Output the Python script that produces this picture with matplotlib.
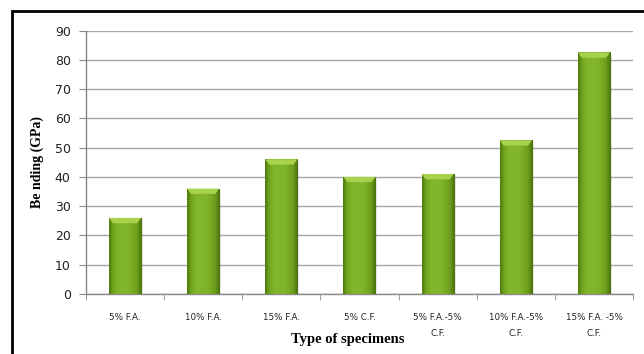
import matplotlib
matplotlib.use("Agg")
import matplotlib.pyplot as plt
import numpy as np
from matplotlib.colors import LinearSegmentedColormap
from matplotlib.patches import Rectangle, Polygon

# bending modulus per specimen type
specimens = ["5% F.A.", "10% F.A.", "15% F.A.", "5% C.F.",
             "5% F.A.-5%\nC.F.", "10% F.A.-5%\nC.F.", "15% F.A. -5%\nC.F."]
bending = [26, 36, 46, 40, 41, 52.5, 82.5]
y_ticks = [0, 10, 20, 30, 40, 50, 60, 70, 80, 90]

fig = plt.figure(figsize=(6.44, 3.54), dpi=100)
ax = fig.add_axes([0.1335, 0.1695, 0.8495, 0.7443])

x = np.arange(len(specimens))
width = 0.41

# horizontal shading across each bar, darker rims and a flat bright body
bar_cmap = LinearSegmentedColormap.from_list(
    "bar_green", [(0.0, "#4e7a0e"), (0.12, "#72a51f"), (0.3, "#82b72c"),
                  (0.6, "#80b52a"), (0.85, "#6f9f1e"), (1.0, "#4a720c")])
grad = np.linspace(0, 1, 64).reshape(1, -1)

bars = ax.bar(x, bending, width=width, color="#7eb22a", zorder=3)
for b, val in zip(bars, bending):
    x0 = b.get_x()
    # soft shadow on the right
    ax.add_patch(Rectangle((x0 + 0.025, 0), width, val - 0.4, facecolor="#000000",
                           alpha=0.10, lw=0, zorder=2))
    im = ax.imshow(grad, cmap=bar_cmap, aspect="auto",
                   extent=(x0, x0 + width, 0, val), zorder=3.5, interpolation="bicubic")
    im.set_clip_path(b)
    # bevelled top
    bevel = 1.8
    inset = 0.05
    ax.add_patch(Polygon([(x0, val), (x0 + width, val),
                          (x0 + width - inset, val - bevel), (x0 + inset, val - bevel)],
                         closed=True, facecolor="#a8d24c", edgecolor="none", zorder=4))

ax.set_xlim(-0.5, len(specimens) - 0.5)
ax.set_ylim(0, 90)
ax.set_yticks(y_ticks)
ax.yaxis.grid(True, color="#a6a6a6", linewidth=1.0, zorder=0)
ax.set_axisbelow(True)

ax.set_xticks(x)
ax.set_xticklabels(specimens, fontsize=6.3, color="#222222", linespacing=2.0,
                   family="DejaVu Sans", va="top")
ax.tick_params(axis="x", length=0, pad=14)
ax.set_xticks(np.arange(-0.5, len(specimens)), minor=True)
ax.tick_params(axis="x", which="minor", length=4, color="#888888", direction="out")
ax.tick_params(axis="y", length=5, color="#888888", labelsize=9, labelcolor="#222222", pad=6)

for side in ["top", "right"]:
    ax.spines[side].set_visible(False)
for side in ["left", "bottom"]:
    ax.spines[side].set_color("#888888")
    ax.spines[side].set_linewidth(1.0)

ax.set_ylabel("Be nding (GPa)", fontsize=10, fontweight="bold",
              family="Liberation Serif", labelpad=8)
fig.text(0.54, 0.04, "Type of specimens", ha="center", va="center",
         fontsize=10.5, fontweight="bold", family="Liberation Serif")

# outer frame, open at right and bottom
fig.add_artist(Rectangle((12 / 644, -0.1), 1.2, (354 - 11) / 354 + 0.1,
                         transform=fig.transFigure, fill=False,
                         edgecolor="black", linewidth=2.0))

fig.savefig("out.png", dpi=100)
